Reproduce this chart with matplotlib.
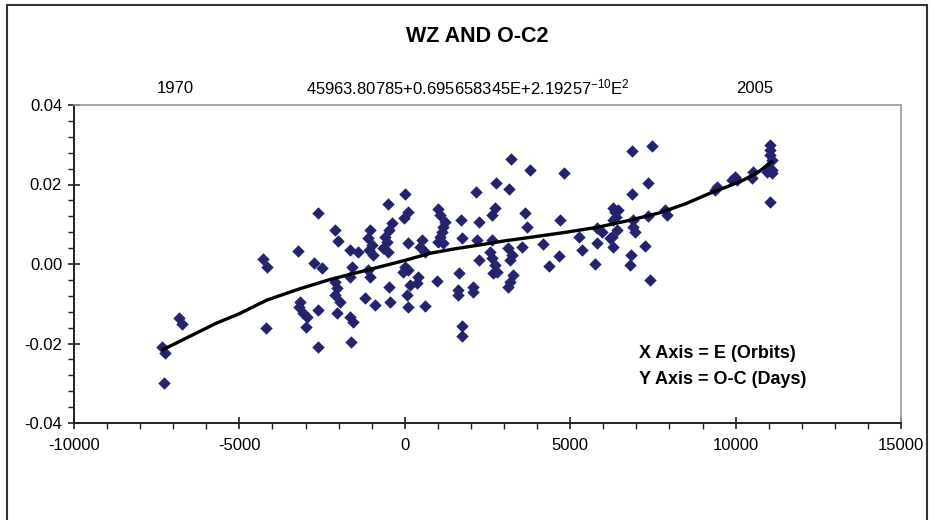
import matplotlib
matplotlib.use("Agg")
import matplotlib.pyplot as plt
from matplotlib.ticker import MultipleLocator, FormatStrFormatter
from matplotlib.patches import Rectangle

plt.rcParams['font.family'] = ['Liberation Sans', 'DejaVu Sans']
plt.rcParams['axes.unicode_minus'] = False
plt.rcParams['mathtext.fontset'] = 'custom'
plt.rcParams['mathtext.rm'] = 'Liberation Sans'
plt.rcParams['mathtext.it'] = 'Liberation Sans'

# Observed O-C values (E in orbits, O-C in days)
E_obs = [-7349, -7249, -7279, -6817, -6744, -4277, -4157, -4205, -3219, -3168,
         -3189, -3068, -2966, -2987, -2615, -2615, -2615, -2745, -2512, -2110,
         -2010, -2110, -2059, -2110, -1959, -2059, -1657, -1406, -1605, -1657,
         -1657, -1575, -1636, -1052, -1103, -1001, -1073, -952, -1103, -1052,
         -1203, -901, -599, -547, -650, -499, -517, -396, -469, -469,
         -447, 6, 106, -24, 106, 6, 106, -45, 57, 106,
         408, 360, 157, 511, 459, 611, 611, 1013, 1064, 1215,
         1164, 1115, 1064, 1013, 1164, 964, 1690, 1738, 1648, 1617,
         1617, 1738, 1738, 2152, 2252, 2174, 2252, 2071, 2071, 2757,
         2727, 2627, 2627, 2576, 2627, 2727, 2778, 2675, 3210, 3159,
         3129, 3232, 3180, 3534, 3634, 3685, 3280, 3180, 3129, 3770,
         4813, 4692, 4187, 4670, 4368, 5801, 5952, 5275, 5801, 5348,
         5750, 6303, 6354, 6454, 6384, 6303, 6406, 6255, 6203, 6303,
         6859, 6859, 6908, 6908, 6959, 6838, 6808, 7464, 7361, 7361,
         7261, 7413, 7866, 7917, 9429, 9377, 9982, 10033, 9882, 10535,
         10487, 11040, 11040, 11040, 11091, 10988, 11091, 10940, 11091, 11040]
OC_obs = [-0.0208, -0.0225, -0.0299, -0.0137, -0.0151, 0.0013, -0.0007, -0.0162, 0.0033, -0.0095,
          -0.0107, -0.0124, -0.0133, -0.0158, 0.0128, -0.0116, -0.0210, 0.0002, -0.0011, 0.0086,
          0.0059, -0.0045, -0.0061, -0.0078, -0.0095, -0.0124, 0.0035, 0.0031, -0.0007, -0.0032,
          -0.0133, -0.0145, -0.0197, 0.0086, 0.0065, 0.0048, 0.0035, 0.0023, -0.0015, -0.0032,
          -0.0086, -0.0103, 0.0069, 0.0056, 0.0040, 0.0031, 0.0150, 0.0102, 0.0086, -0.0057,
          -0.0095, 0.0175, 0.0132, 0.0115, 0.0052, -0.0007, -0.0015, -0.0019, -0.0078, -0.0109,
          -0.0032, -0.0049, -0.0053, 0.0060, 0.0044, 0.0031, -0.0106, 0.0138, 0.0123, 0.0106,
          0.0094, 0.0081, 0.0069, 0.0056, 0.0052, -0.0042, 0.0111, 0.0065, -0.0022, -0.0065,
          -0.0078, -0.0155, -0.0181, 0.0182, 0.0106, 0.0060, 0.0010, -0.0057, -0.0071, 0.0205,
          0.0140, 0.0123, 0.0060, 0.0031, 0.0014, -0.0003, -0.0019, -0.0023, 0.0264, 0.0188,
          0.0040, 0.0023, 0.0010, 0.0042, 0.0128, 0.0094, -0.0028, -0.0045, -0.0057, 0.0237,
          0.0230, 0.0111, 0.0050, 0.0020, -0.0005, 0.0090, 0.0081, 0.0069, 0.0052, 0.0035,
          -0.0001, 0.0140, 0.0132, 0.0136, 0.0119, 0.0111, 0.0086, 0.0069, 0.0065, 0.0042,
          0.0284, 0.0175, 0.0111, 0.0094, 0.0081, 0.0023, -0.0003, 0.0298, 0.0205, 0.0121,
          0.0045, -0.0040, 0.0136, 0.0123, 0.0193, 0.0186, 0.0220, 0.0211, 0.0211, 0.0232,
          0.0216, 0.0299, 0.0287, 0.0274, 0.0262, 0.0245, 0.0237, 0.0232, 0.0228, 0.0157]

# Fitted curve
E_fit = [-7300, -6500, -5700, -5000, -4175, -3200, -2261, -750, 0, 762, 1500, 2273,
         3000, 3785, 4800, 5801, 6800, 7715, 8500, 9226, 9700, 10233, 10700, 11091]
OC_fit = [-0.0215, -0.0182, -0.0149, -0.0125, -0.0091, -0.0063, -0.0039, -0.0007, 0.0009,
          0.0027, 0.0038, 0.0048, 0.0058, 0.0067, 0.0079, 0.0092, 0.0110, 0.0129, 0.0152,
          0.0178, 0.0193, 0.0211, 0.0232, 0.0257]

title = "WZ AND O-C2"
top_labels = ["1970", r"45963.80785+0.695658345E+2.19257$^{\mathrm{-10}}$E$^{2}$", "2005"]
note_lines = ["X Axis = E (Orbits)", "Y Axis = O-C (Days)"]

W, H = 936, 520
fig = plt.figure(figsize=(W / 100, H / 100), dpi=100)
ax = fig.add_axes([74 / W, 1 - 423 / H, (901 - 74) / W, (423 - 105) / H])

ax.scatter(E_obs, OC_obs, marker='D', s=40, color='#23236E', linewidths=0, zorder=2)
ax.plot(E_fit, OC_fit, color='black', lw=2.4, zorder=3)

ax.set_xlim(-10000, 15000)
ax.set_ylim(-0.04, 0.04)
ax.xaxis.set_major_locator(MultipleLocator(5000))
ax.xaxis.set_minor_locator(MultipleLocator(1000))
ax.yaxis.set_major_locator(MultipleLocator(0.02))
ax.yaxis.set_minor_locator(MultipleLocator(0.004))
ax.yaxis.set_major_formatter(FormatStrFormatter('%.2f'))

for s in ['top', 'right']:
    ax.spines[s].set_color('#9a9a9a')
    ax.spines[s].set_linewidth(1.2)
for s in ['left', 'bottom']:
    ax.spines[s].set_color('#222222')
    ax.spines[s].set_linewidth(1.4)

ax.tick_params(which='major', direction='inout', length=9, width=1.2, colors='#222222',
               labelsize=12, labelcolor='black')
ax.tick_params(which='minor', direction='out', length=4, width=1.0, colors='#222222')
ax.tick_params(axis='y', pad=4)
ax.tick_params(axis='x', pad=6)

fig.text(477 / W, 1 - 37 / H, title, ha='center', va='center', fontsize=15.5, fontweight='bold')
fig.text(175 / W, 1 - 88 / H, top_labels[0], ha='center', va='center', fontsize=12)
fig.text(468 / W, 1 - 87 / H, top_labels[1], ha='center', va='center', fontsize=12)
fig.text(755 / W, 1 - 88 / H, top_labels[2], ha='center', va='center', fontsize=12)
fig.text(639 / W, 1 - 354 / H, note_lines[0], ha='left', va='center', fontsize=13, fontweight='bold')
fig.text(639 / W, 1 - 380 / H, note_lines[1], ha='left', va='center', fontsize=13, fontweight='bold')

fig.add_artist(Rectangle((7 / W, -0.05), (927 - 7) / W, 1.05 - 5 / H, transform=fig.transFigure,
                         fill=False, edgecolor='#333333', lw=1.5))

fig.savefig('out.png', dpi=100)
